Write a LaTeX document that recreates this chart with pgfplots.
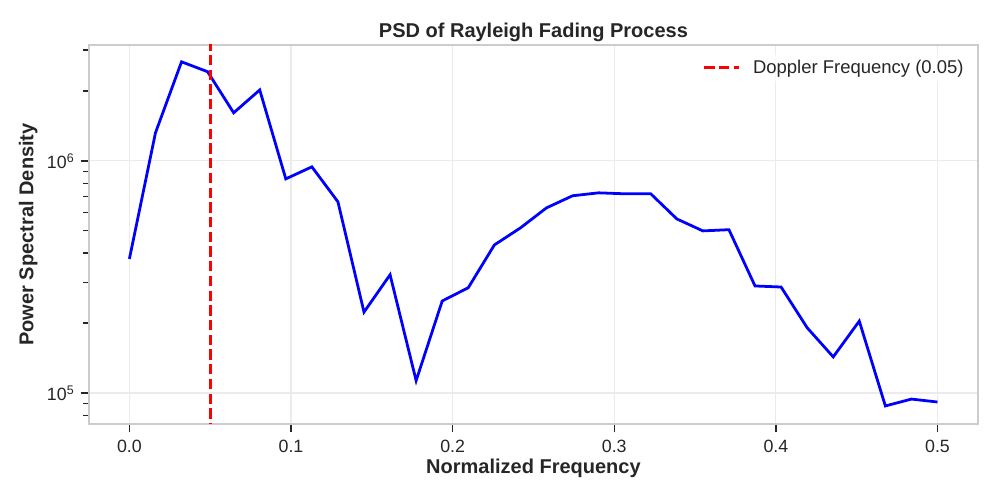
\documentclass[border=0pt]{standalone}
\usepackage{pgfplots}
\pgfplotsset{compat=1.18}
\usepackage{fontspec}
\setmainfont{Liberation Sans}
\definecolor{txt}{HTML}{262626}
\definecolor{spine}{HTML}{CCCCCC}
\definecolor{gridc}{HTML}{EBEBEB}
\pgfplotstableread{
x y
0.000000 378000
0.016129 1320000
0.032258 2670000
0.048387 2420000
0.064516 1610000
0.080645 2020000
0.096774 836000
0.112903 942000
0.129032 666000
0.145161 223000
0.161290 323000
0.177419 113000
0.193548 249000
0.209677 284000
0.225806 434000
0.241935 514000
0.258065 627000
0.274194 707000
0.290323 728000
0.306452 721000
0.322581 721000
0.338710 562000
0.354839 499000
0.370968 505000
0.387097 289000
0.403226 286000
0.419355 191000
0.435484 143000
0.451613 204000
0.467742 87900
0.483871 94100
0.500000 91400
}\psd
\begin{document}
\begin{tikzpicture}
\path[use as bounding box] (-64.08pt,-54.72pt) rectangle ++(720pt,360pt);
\begin{axis}[
  at={(0,0)}, anchor=south west,
  scale only axis, width=640pt, height=273pt,
  ymode=log,
  xmin=-0.025, xmax=0.525,
  ymin=73500, ymax=3160000,
  xtick={0,0.1,0.2,0.3,0.4,0.5},
  xticklabels={0.0,0.1,0.2,0.3,0.4,0.5},
  ytick={1e5,1e6},
  yticklabels={10\textsuperscript{5},10\textsuperscript{6}},
  minor ytick={8e4,9e4,2e5,3e5,4e5,5e5,6e5,7e5,8e5,9e5,2e6,3e6},
  xmajorgrids, ymajorgrids,
  grid style={gridc, line width=0.8pt},
  axis line style={spine, line width=1.25pt},
  tick style={txt, line width=1pt},
  major tick length=6pt, minor tick length=4pt,
  tick align=outside,
  xtick pos=bottom, ytick pos=left,
  tick label style={font=\fontsize{12.8}{15}\selectfont, text=txt},
  xticklabel style={yshift=-2pt},
  yticklabel style={xshift=-1pt},
  title={\textbf{PSD of Rayleigh Fading Process}},
  title style={font=\fontsize{14.4}{17}\selectfont, text=txt, yshift=-7pt},
  xlabel={\textbf{Normalized Frequency}},
  ylabel={\textbf{Power Spectral Density}},
  label style={font=\fontsize{14.4}{17}\selectfont, text=txt},
  xlabel style={yshift=2pt},
  ylabel style={yshift=0pt},
  legend style={at={(0.992,0.975)}, anchor=north east, draw=none, fill=white, fill opacity=0.8, text opacity=1,
    font=\fontsize{13.3}{15}\selectfont, text=txt, row sep=2pt,
    /tikz/every odd column/.append style={column sep=7pt}},
  legend cell align=left,
  legend image code/.code={\draw[#1, line width=2pt] (0pt,0pt) -- (25pt,0pt);},
]
\addplot[blue, line width=2pt, forget plot] table[x=x,y=y] {\psd};
\addplot[red, line width=2pt, dash pattern=on 7.4pt off 3.2pt] coordinates {(0.05,50000) (0.05,5000000)};
\addlegendentry{Doppler Frequency (0.05)}
\end{axis}
\end{tikzpicture}
\end{document}
